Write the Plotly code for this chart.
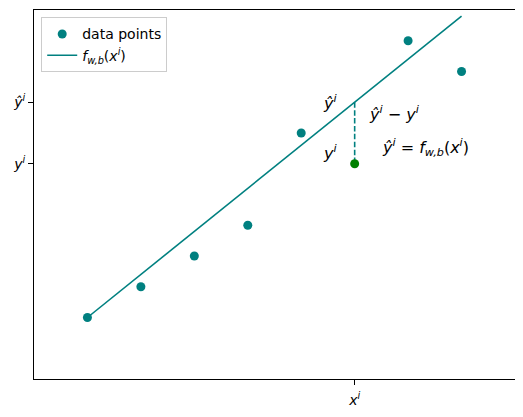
import plotly.graph_objects as go

x_vals = [1, 2, 3, 4, 5, 6, 7, 8]
y_vals = [1, 2, 3, 4, 7, 6, 10, 9]
highlight_idx = 5
w, b = 1.4, -0.4
line_x = [1, 8]
line_y = [w * v + b for v in line_x]

teal = "#008080"
green = "#008000"

xi = x_vals[highlight_idx]
yi = y_vals[highlight_idx]
yhat = w * xi + b

fig = go.Figure()
pts_x = [v for i, v in enumerate(x_vals) if i != highlight_idx]
pts_y = [v for i, v in enumerate(y_vals) if i != highlight_idx]
fig.add_trace(go.Scatter(x=pts_x, y=pts_y, mode="markers", name="data points",
                         marker=dict(color=teal, size=9)))
fig.add_trace(go.Scatter(x=line_x, y=line_y, mode="lines",
                         name="<i>f</i><sub><i>w,b</i></sub>(<i>x</i><sup><i>i</i></sup>)",
                         line=dict(color=teal, width=1.6)))
fig.add_trace(go.Scatter(x=[xi, xi], y=[yhat, yi], mode="lines", showlegend=False,
                         line=dict(color=teal, width=1.6, dash="5.5px,2.4px")))
fig.add_trace(go.Scatter(x=[xi], y=[yi], mode="markers", showlegend=False,
                         marker=dict(color=green, size=9)))

afont = dict(family="DejaVu Sans", size=16, color="black")
anns = [
    (5.54, 8.0, "<i>ŷ</i><sup><i>i</i></sup>"),
    (5.54, 6.38, "<i>y</i><sup><i>i</i></sup>"),
    (6.75, 7.65, "<i>ŷ</i><sup><i>i</i></sup> − <i>y</i><sup><i>i</i></sup>"),
    (7.32, 6.54, "<i>ŷ</i><sup><i>i</i></sup> = <i>f</i><sub><i>w,b</i></sub>(<i>x</i><sup><i>i</i></sup>)"),
]
for ax_, ay_, t in anns:
    fig.add_annotation(x=ax_, y=ay_, text=t, showarrow=False, font=afont,
                       xanchor="center", yanchor="middle")

axis_common = dict(showgrid=False, zeroline=False, showline=True, linecolor="black",
                   linewidth=1, mirror=True, ticks="outside", ticklen=5,
                   tickcolor="black", tickfont=dict(family="DejaVu Sans", size=14, color="black"))
fig.update_xaxes(range=[0, 9], tickvals=[xi], ticklabelstandoff=3,
                 ticktext=["<i>x</i><sup><i>i</i></sup>"], **axis_common)
fig.update_yaxes(range=[-1, 11], tickvals=[yi, yhat],
                 ticktext=["<i>y</i><sup><i>i</i></sup>", "<i>ŷ</i><sup><i>i</i></sup>"],
                 **axis_common)

# page body has an 8px default margin; size/margins compensate for it
fig.update_layout(
    width=515, height=409,
    margin=dict(l=26, r=8, t=2, b=38, autoexpand=False),
    plot_bgcolor="white", paper_bgcolor="white",
    font=dict(family="DejaVu Sans", size=13, color="black"),
    legend=dict(x=0.015, y=0.98, xanchor="left", yanchor="top",
                bgcolor="white", bordercolor="#cccccc", borderwidth=1,
                font=dict(size=14), itemwidth=30, tracegroupgap=0),
)

fig.write_html("out.html")
